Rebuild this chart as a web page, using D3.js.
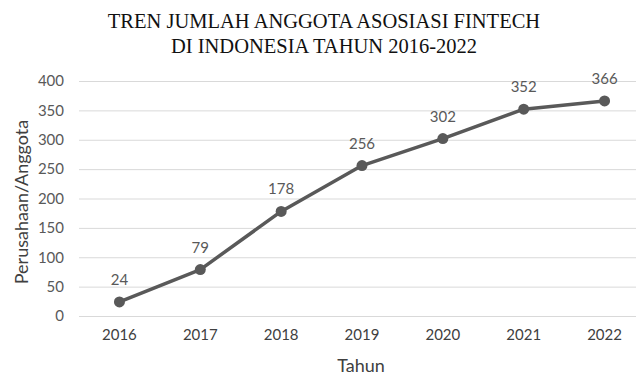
<!DOCTYPE html>
<html><head><meta charset="utf-8">
<script src="https://cdn.jsdelivr.net/npm/d3@7"></script>
<style>body{margin:0;background:#fff}svg{display:block}</style>
</head><body>
<svg id="c" width="636" height="376"></svg>
<script>
const years = ["2016","2017","2018","2019","2020","2021","2022"];
const members = [24, 79, 178, 256, 302, 352, 366];
const yTicks = [0, 50, 100, 150, 200, 250, 300, 350, 400];
const titleLines = ["TREN JUMLAH ANGGOTA ASOSIASI FINTECH", "DI INDONESIA TAHUN 2016-2022"];
const xTitle = "Tahun";
const yTitle = "Perusahaan/Anggota";

(function () {
const svg = d3.select("#c");
const W = 636, H = 376;
const pL = 79, pR = 645, pT = 81, pB = 316;
const font = "Lato, 'Open Sans', sans-serif";
const grey = "#595959";

const x = d3.scaleBand().domain(years).range([pL, pR]);
const y = d3.scaleLinear().domain([0, 400]).range([pB, pT]);

svg.append("rect").attr("width", W).attr("height", H).attr("fill", "#fff");

svg.append("g").selectAll("text").data(titleLines).join("text")
  .attr("x", 324).attr("y", (d, i) => 28 + i * 25)
  .attr("text-anchor", "middle")
  .attr("font-family", "'Liberation Serif', 'Times New Roman', serif")
  .attr("font-size", 20.5).attr("fill", "#111")
  .text(d => d);

const yAxis = d3.axisLeft(y).tickValues(yTicks).tickSize(-(pR - pL)).tickPadding(15);
const gy = svg.append("g").attr("transform", `translate(${pL},0)`).call(yAxis);
gy.select(".domain").remove();
gy.selectAll(".tick line").attr("stroke", "#d9d9d9").attr("stroke-width", 1);
gy.selectAll(".tick text").attr("font-family", font).attr("font-size", 15).attr("fill", grey);

const xAxis = d3.axisBottom(x).tickSize(0).tickPadding(13);
const gx = svg.append("g").attr("transform", `translate(0,${pB})`).call(xAxis);
gx.select(".domain").remove();
gx.selectAll(".tick text").attr("font-family", font).attr("font-size", 15).attr("fill", "#404040");

const cx = d => x(d) + x.bandwidth() / 2;

svg.append("path").datum(members.map((v, i) => [years[i], v]))
  .attr("fill", "none").attr("stroke", grey).attr("stroke-width", 3.5)
  .attr("stroke-linejoin", "round")
  .attr("d", d3.line().x(d => cx(d[0])).y(d => y(d[1])));

svg.append("g").selectAll("circle").data(members).join("circle")
  .attr("cx", (d, i) => cx(years[i])).attr("cy", d => y(d)).attr("r", 5.5)
  .attr("fill", grey);

svg.append("g").selectAll("text").data(members).join("text")
  .attr("x", (d, i) => cx(years[i])).attr("y", d => y(d) - 17)
  .attr("text-anchor", "middle")
  .attr("font-family", font).attr("font-size", 15).attr("fill", grey)
  .text(d => d);

svg.append("text").attr("x", 361).attr("y", 372).attr("text-anchor", "middle")
  .attr("font-family", font).attr("font-size", 18).attr("fill", "#404040").text(xTitle);
svg.append("text").attr("transform", "translate(28,202) rotate(-90)").attr("text-anchor", "middle")
  .attr("font-family", font).attr("font-size", 18).attr("fill", "#404040").text(yTitle);
})();
</script>
</body></html>
